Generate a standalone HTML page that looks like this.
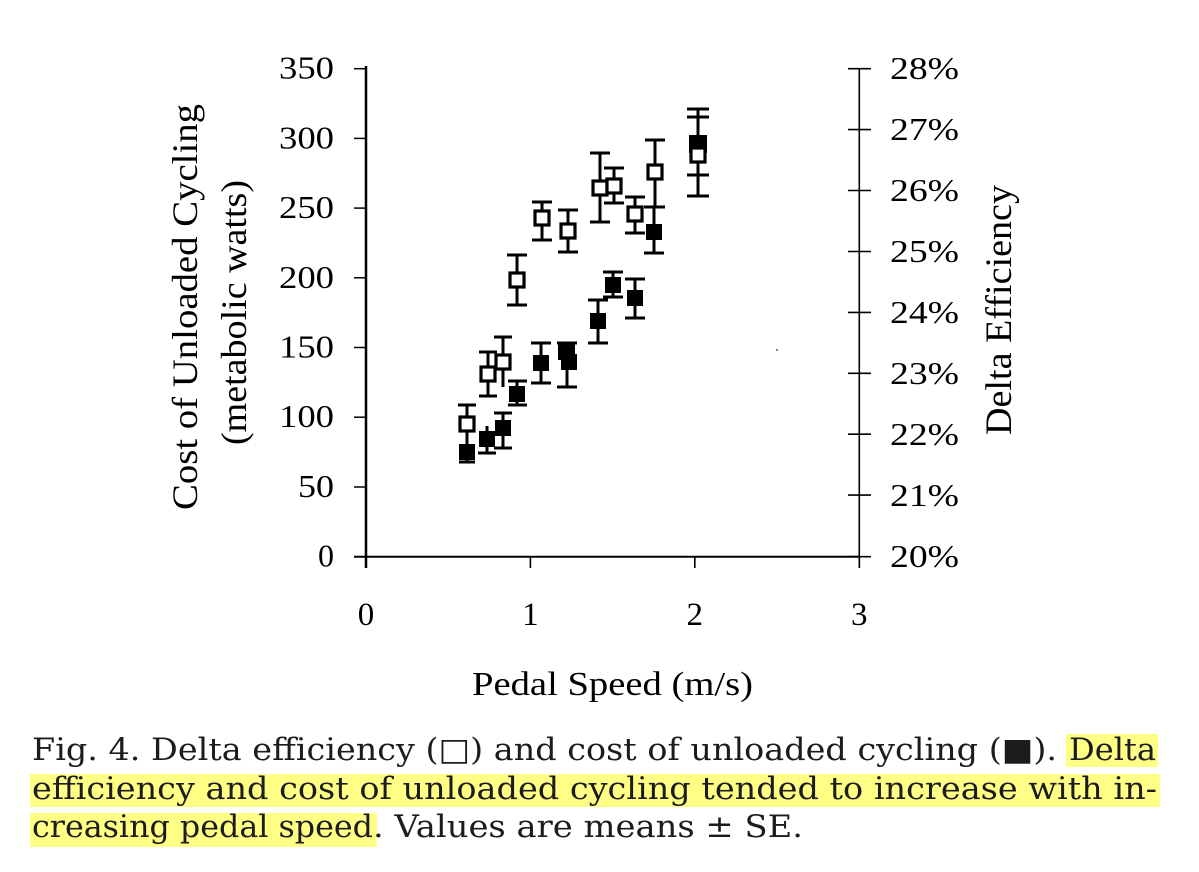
<!DOCTYPE html>
<html>
<head>
<meta charset="utf-8">
<style>
html,body{margin:0;padding:0;background:#fff;}
svg{display:block;}
.chart text{font-family:"Liberation Serif","Times New Roman",serif;}
.cap text{font-family:"DejaVu Serif","Liberation Serif",serif;}
</style>
</head>
<body>
<svg width="1199" height="872" viewBox="0 0 1199 872" xmlns="http://www.w3.org/2000/svg">
<rect width="1199" height="872" fill="#fff"/>

<!-- Axes -->
<g stroke="#000" fill="none">
  <line x1="366" y1="66" x2="366" y2="568" stroke-width="2.5"/>
  <line x1="354" y1="556.7" x2="860" y2="556.7" stroke-width="2"/>
  <line x1="859.3" y1="68" x2="859.3" y2="568" stroke-width="1.6"/>
  <g stroke-width="1.5">
    <line x1="354" y1="68.7" x2="366" y2="68.7"/>
    <line x1="354" y1="138.4" x2="366" y2="138.4"/>
    <line x1="354" y1="208.1" x2="366" y2="208.1"/>
    <line x1="354" y1="277.8" x2="366" y2="277.8"/>
    <line x1="354" y1="347.5" x2="366" y2="347.5"/>
    <line x1="354" y1="417.2" x2="366" y2="417.2"/>
    <line x1="354" y1="487" x2="366" y2="487"/>
  </g>
  <g stroke-width="1.6">
    <line x1="848" y1="68.7" x2="871" y2="68.7"/>
    <line x1="848" y1="129.6" x2="871" y2="129.6"/>
    <line x1="848" y1="190.5" x2="871" y2="190.5"/>
    <line x1="848" y1="251.5" x2="871" y2="251.5"/>
    <line x1="848" y1="312.4" x2="871" y2="312.4"/>
    <line x1="848" y1="373.3" x2="871" y2="373.3"/>
    <line x1="848" y1="434.2" x2="871" y2="434.2"/>
    <line x1="848" y1="495.1" x2="871" y2="495.1"/>
    <line x1="848" y1="556.7" x2="871" y2="556.7"/>
  </g>
  <g stroke-width="1.6">
    <line x1="366" y1="556.7" x2="366" y2="568"/>
    <line x1="530.4" y1="556.7" x2="530.4" y2="568"/>
    <line x1="694.8" y1="556.7" x2="694.8" y2="568"/>
    <line x1="859.3" y1="556.7" x2="859.3" y2="568"/>
  </g>
</g>
<circle cx="777" cy="350" r="1" fill="#555"/>

<g class="chart" fill="#000">
  <g font-size="32" text-anchor="end">
    <text x="334" y="78.7" textLength="55" lengthAdjust="spacingAndGlyphs">350</text>
    <text x="334" y="148.4" textLength="55" lengthAdjust="spacingAndGlyphs">300</text>
    <text x="334" y="218.1" textLength="55" lengthAdjust="spacingAndGlyphs">250</text>
    <text x="334" y="287.8" textLength="55" lengthAdjust="spacingAndGlyphs">200</text>
    <text x="334" y="357.5" textLength="55" lengthAdjust="spacingAndGlyphs">150</text>
    <text x="334" y="427.2" textLength="55" lengthAdjust="spacingAndGlyphs">100</text>
    <text x="334" y="497" textLength="36" lengthAdjust="spacingAndGlyphs">50</text>
    <text x="334" y="566.7">0</text>
  </g>
  <g font-size="32">
    <text x="890" y="79" textLength="69" lengthAdjust="spacingAndGlyphs">28%</text>
    <text x="890" y="140" textLength="69" lengthAdjust="spacingAndGlyphs">27%</text>
    <text x="890" y="201" textLength="69" lengthAdjust="spacingAndGlyphs">26%</text>
    <text x="890" y="262" textLength="69" lengthAdjust="spacingAndGlyphs">25%</text>
    <text x="890" y="323" textLength="69" lengthAdjust="spacingAndGlyphs">24%</text>
    <text x="890" y="384" textLength="69" lengthAdjust="spacingAndGlyphs">23%</text>
    <text x="890" y="445" textLength="69" lengthAdjust="spacingAndGlyphs">22%</text>
    <text x="890" y="506" textLength="69" lengthAdjust="spacingAndGlyphs">21%</text>
    <text x="890" y="567" textLength="69" lengthAdjust="spacingAndGlyphs">20%</text>
  </g>
  <g text-anchor="middle" font-size="33">
    <text x="366" y="625">0</text>
    <text x="530.4" y="625">1</text>
    <text x="694.8" y="625">2</text>
    <text x="859.3" y="625">3</text>
  </g>
  <text x="472" y="695" font-size="34" textLength="281" lengthAdjust="spacingAndGlyphs">Pedal Speed (m/s)</text>
  <text transform="translate(197,510) rotate(-90)" font-size="36" textLength="406" lengthAdjust="spacingAndGlyphs">Cost of Unloaded Cycling</text>
  <text transform="translate(246,445) rotate(-90)" font-size="36" textLength="265" lengthAdjust="spacingAndGlyphs">(metabolic watts)</text>
  <text transform="translate(1011,435) rotate(-90)" font-size="37" textLength="250" lengthAdjust="spacingAndGlyphs">Delta Efficiency</text>
</g>

<!-- Data: error bars -->
<g stroke="#000" stroke-width="3" fill="none">
  <path d="M467 440V462 M459 462H475"/>
  <path d="M487 426V453 M478 453H496"/>
  <path d="M503 413V448 M494 448H512 M494 413H512"/>
  <path d="M517 381V405 M508 381H527 M508 405H527"/>
  <path d="M541 343V383 M531 343H551 M531 383H551"/>
  <path d="M567 343V387 M557 343H577 M557 387H577"/>
  <path d="M598 300V343 M588 300H608 M588 343H608"/>
  <path d="M613 272V297 M603 272H623 M603 297H623"/>
  <path d="M635 279V318 M625 279H645 M625 318H645"/>
  <path d="M654 207V253 M644 207H664 M644 253H664"/>
  <path d="M698 117V175 M687 117H709 M687 175H709"/>
  <path d="M467 405V443 M458 405H476"/>
  <path d="M488 352V396 M479 352H497 M479 396H497"/>
  <path d="M503 337V387 M494 337H512"/>
  <path d="M517 255V305 M507 255H527 M507 305H527"/>
  <path d="M542 202V240 M532 202H552 M532 240H552"/>
  <path d="M568 210V252 M558 210H578 M558 252H578"/>
  <path d="M600 153V222 M590 153H610 M590 222H610"/>
  <path d="M614 168V203 M604 168H624 M604 203H624"/>
  <path d="M635 197V233 M625 197H645 M625 233H645"/>
  <path d="M655 140V207 M645 140H665 M645 207H665"/>
  <path d="M698 109V196 M687 109H709 M687 196H709"/>
</g>

<g fill="#000">
  <rect x="459" y="444" width="16" height="16"/>
  <rect x="479" y="431" width="16" height="16"/>
  <rect x="495" y="420" width="16" height="16"/>
  <rect x="509" y="386" width="16" height="16"/>
  <rect x="533" y="355" width="16" height="16"/>
  <rect x="558" y="344" width="17" height="16"/>
  <rect x="561" y="354" width="16" height="16"/>
  <rect x="590" y="313" width="16" height="16"/>
  <rect x="605" y="277" width="16" height="16"/>
  <rect x="627" y="290" width="16" height="16"/>
  <rect x="646" y="224" width="16" height="16"/>
  <rect x="689" y="135" width="18" height="18"/>
</g>
<g fill="#fff" stroke="#000" stroke-width="3.2">
  <rect x="460" y="417" width="14" height="14"/>
  <rect x="481" y="367" width="14" height="14"/>
  <rect x="496" y="355" width="14" height="14"/>
  <rect x="510" y="273" width="14" height="14"/>
  <rect x="535" y="211" width="14" height="14"/>
  <rect x="561" y="224" width="14" height="14"/>
  <rect x="593" y="181" width="14" height="14"/>
  <rect x="607" y="179" width="14" height="14"/>
  <rect x="628" y="207" width="14" height="14"/>
  <rect x="648" y="165" width="14" height="14"/>
  <rect x="691" y="148" width="14" height="14"/>
</g>

<!-- Caption -->
<g fill="#ffff85">
  <rect x="1066" y="734" width="92" height="33"/>
  <rect x="30" y="774" width="1130" height="33"/>
  <rect x="30" y="813" width="347" height="34"/>
</g>
<g class="cap" font-size="31" fill="#1c1c1c">
  <text x="32" y="760" textLength="1025" lengthAdjust="spacingAndGlyphs">Fig. 4. Delta efficiency (□) and cost of unloaded cycling (■).</text>
  <text x="1069" y="760" textLength="87" lengthAdjust="spacingAndGlyphs">Delta</text>
  <text x="32" y="799" textLength="1125" lengthAdjust="spacingAndGlyphs">efficiency and cost of unloaded cycling tended to increase with in-</text>
  <text x="32" y="837" textLength="341" lengthAdjust="spacingAndGlyphs">creasing pedal speed</text>
  <text x="373" y="837" textLength="430" lengthAdjust="spacingAndGlyphs">. Values are means ± SE.</text>
</g>
</svg>
</body>
</html>
